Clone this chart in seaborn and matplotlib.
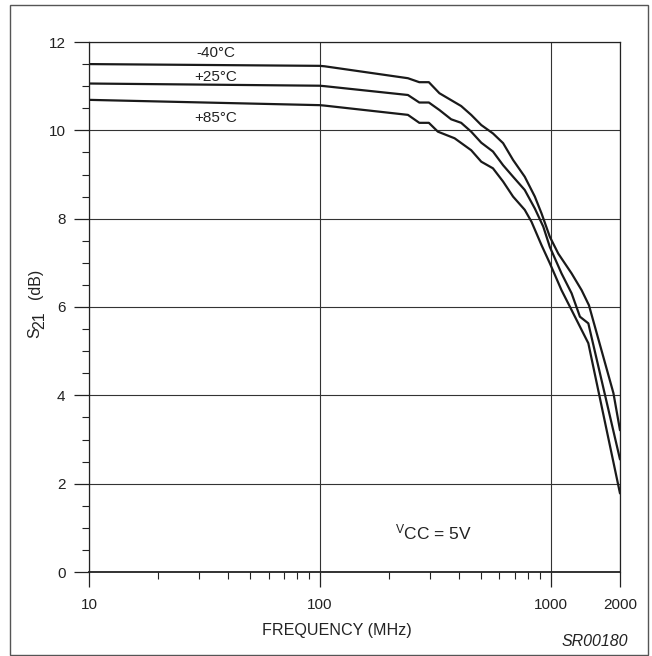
import numpy as np
import pandas as pd
import seaborn as sns
import matplotlib.pyplot as plt
from matplotlib.patches import Rectangle
from matplotlib.ticker import FixedLocator, NullFormatter, MultipleLocator

# S21 gain vs frequency
freq_m40 = [10, 100, 105, 241, 270, 297, 330, 410, 453, 501, 563, 623, 688, 773, 855, 914, 993, 1080, 1234, 1364, 1467, 1873, 2000]
s21_m40 = [11.50, 11.46, 11.45, 11.18, 11.09, 11.09, 10.84, 10.55, 10.35, 10.12, 9.93, 9.71, 9.33, 8.95, 8.50, 8.12, 7.59, 7.21, 6.76, 6.38, 6.04, 4.05, 3.21]

freq_p25 = [10, 100, 105, 241, 270, 297, 330, 371, 410, 453, 501, 563, 623, 688, 773, 855, 930, 993, 1116, 1234, 1341, 1458, 2000]
s21_p25 = [11.06, 11.01, 11.00, 10.80, 10.63, 10.63, 10.46, 10.25, 10.17, 9.97, 9.72, 9.52, 9.21, 8.95, 8.65, 8.23, 7.82, 7.36, 6.76, 6.31, 5.78, 5.63, 2.55]

freq_p85 = [10, 100, 105, 241, 270, 297, 325, 384, 453, 501, 563, 623, 688, 773, 827, 914, 993, 1116, 1234, 1458, 2000]
s21_p85 = [10.69, 10.57, 10.56, 10.35, 10.17, 10.17, 9.97, 9.82, 9.55, 9.29, 9.14, 8.84, 8.50, 8.20, 7.93, 7.40, 6.99, 6.38, 5.93, 5.18, 1.78]

temps = ["-40°C", "+25°C", "+85°C"]
label_y = [11.75, 11.21, 10.28]

df = pd.concat([
    pd.DataFrame({"freq": freq_m40, "s21": s21_m40, "temp": temps[0]}),
    pd.DataFrame({"freq": freq_p25, "s21": s21_p25, "temp": temps[1]}),
    pd.DataFrame({"freq": freq_p85, "s21": s21_p85, "temp": temps[2]}),
])

sns.set_style("white")
plt.rcParams["font.family"] = ["Liberation Sans", "DejaVu Sans"]
plt.rcParams["mathtext.default"] = "regular"
ink = "#222222"

fig = plt.figure(figsize=(6.52, 6.56), dpi=100)
ax = fig.add_axes([89 / 652, 1 - 572 / 656, 531 / 652, 530 / 656])

sns.lineplot(data=df, x="freq", y="s21", hue="temp", palette=["#1a1a1a"] * 3,
             estimator=None, sort=False, linewidth=1.6, legend=False, ax=ax)

ax.set_xscale("log")
ax.set_xlim(10, 2000)
ax.set_ylim(0, 12)

ax.xaxis.set_major_locator(FixedLocator([10, 100, 1000, 2000]))
ax.set_xticklabels(["10", "100", "1000", "2000"])
minors = [m * d for d in (10, 100) for m in range(2, 10)]
ax.xaxis.set_minor_locator(FixedLocator(minors))
ax.xaxis.set_minor_formatter(NullFormatter())
ax.yaxis.set_major_locator(MultipleLocator(2))
ax.yaxis.set_minor_locator(MultipleLocator(0.5))

ax.tick_params(axis="both", which="both", bottom=True, left=True, top=False, right=False)
ax.tick_params(axis="both", which="major", direction="out", length=11, width=0.9,
               color=ink, labelsize=11, labelcolor=ink)
ax.tick_params(axis="x", which="major", pad=8)
ax.tick_params(axis="y", which="major", pad=6)
ax.tick_params(axis="both", which="minor", direction="out", length=5, width=0.8, color=ink)

ax.grid(True, which="major", color="#333333", linewidth=0.8)
for s in ax.spines.values():
    s.set_color(ink)
    s.set_linewidth(0.9)
ax.spines["bottom"].set_linewidth(1.3)

ax.set_xlabel("FREQUENCY (MHz)", fontsize=11.6, color=ink)
ax.xaxis.set_label_coords(0.466, -0.096)
ax.set_ylabel("")

# y label: S with a large, lowered "21" as on the datasheet
fig.text(35 / 652, 1 - 333 / 656, "S", rotation=90, ha="center", va="center", fontsize=11.5, color=ink)
fig.text(40 / 652, 1 - 320 / 656, "21", rotation=90, ha="center", va="center", fontsize=11.5, color=ink)
fig.text(35 / 652, 1 - 284 / 656, "(dB)", rotation=90, ha="center", va="center", fontsize=11.5, color=ink)

for t, yv in zip(temps, label_y):
    ax.text(35.5, yv, t, ha="center", va="center", fontsize=11, color=ink)

ax.text(212, 0.9, "$^{V}$CC = 5V", ha="left", va="center", fontsize=12.5, color=ink)

fig.text(628 / 652, 1 - 642 / 656, "SR00180", ha="right", va="center",
         fontsize=11.5, style="italic", color=ink)

fig.patches.append(Rectangle((10 / 652, 1 / 656), 638 / 652, 650 / 656,
                             transform=fig.transFigure, fill=False,
                             edgecolor="#555555", linewidth=1.0))

fig.savefig("out.png", dpi=100)
plt.close(fig)
